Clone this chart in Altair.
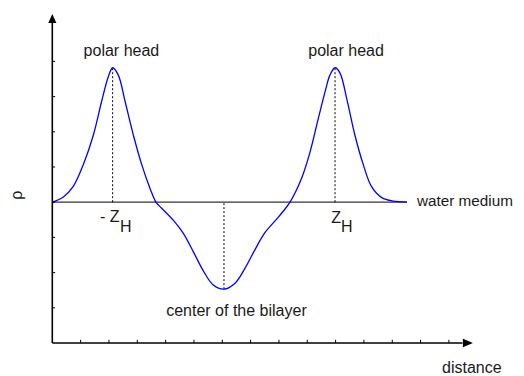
import altair as alt
import pandas as pd

# ---- data (axis units: one tick = one unit) ----
dist = [0.00, 0.39, 0.74, 1.09, 1.45, 1.74, 1.98, 2.13, 2.33, 2.57, 2.86, 3.16, 3.45, 3.66,
        3.86, 4.27, 4.62, 4.98, 5.33, 5.68, 6.06, 6.45, 6.80, 7.16, 7.51, 7.92, 8.21, 8.39,
        8.80, 9.10, 9.39, 9.63, 9.80, 9.98, 10.16, 10.39, 10.68, 10.98, 11.27, 11.63, 12.04, 12.52]
rho = [4.00, 4.15, 4.45, 5.06, 5.91, 6.86, 7.57, 7.82, 7.61, 6.86, 5.91, 5.06, 4.39, 4.00,
       3.83, 3.49, 3.12, 2.59, 2.05, 1.65, 1.53, 1.70, 2.12, 2.66, 3.14, 3.52, 3.80, 4.00,
       4.68, 5.43, 6.38, 7.14, 7.61, 7.82, 7.66, 6.95, 5.91, 5.06, 4.44, 4.13, 4.03, 4.00]

water_level = 4.0
z_head = [2.13, 9.98]
head_peak = 7.82
center_x = 6.06
center_min = 1.53
x_ticks = list(range(1, 15))
y_ticks = list(range(1, 9))

label_text = ["polar head", "polar head", "center of the bilayer", "distance"]
label_x = [2.44, 10.37, 6.50, 14.81]
label_y = [8.15, 8.15, 0.77, -0.84]

X_DOM = [-1.564, 16.368]
Y_DOM = [-0.9375, 9.517]
xs = alt.Scale(domain=X_DOM, nice=False, zero=False)
ys = alt.Scale(domain=Y_DOM, nice=False, zero=False)
FONT = "Liberation Sans"
FS = 16
TXT = "#1a1a1a"


def X(f="x"):
    return alt.X(f"{f}:Q", scale=xs, axis=None)


def Y(f="y"):
    return alt.Y(f"{f}:Q", scale=ys, axis=None)


curve_df = pd.DataFrame({"x": dist, "y": rho})

# axes
axis_df = pd.DataFrame({"x": [0, 0], "y": [0, 0], "x2": [0, 14.48], "y2": [9.09, 0]})
axes = alt.Chart(axis_df).mark_rule(color="black", strokeWidth=1.6).encode(
    x=X(), y=Y(), x2="x2:Q", y2="y2:Q")

xt_df = pd.DataFrame({"x": x_ticks, "y": [0] * len(x_ticks), "y2": [0.09] * len(x_ticks)})
xt = alt.Chart(xt_df).mark_rule(color="black", strokeWidth=1).encode(x=X(), y=Y(), y2="y2:Q")
yt_df = pd.DataFrame({"y": y_ticks, "x": [0] * len(y_ticks), "x2": [0.1] * len(y_ticks)})
yt = alt.Chart(yt_df).mark_rule(color="black", strokeWidth=1).encode(x=X(), y=Y(), x2="x2:Q")

up_arrow = alt.Chart(pd.DataFrame({"x": [0], "y": [9.22]})).mark_point(
    shape="M0,-1L0.9,1L-0.9,1Z", size=81, filled=True, color="black", opacity=1
).encode(x=X(), y=Y())
right_arrow = alt.Chart(pd.DataFrame({"x": [14.67], "y": [0]})).mark_point(
    shape="M1,0L-1,0.85L-1,-0.85Z", size=100, filled=True, color="black", opacity=1
).encode(x=X(), y=Y())

# water level line
water = alt.Chart(pd.DataFrame({"x": [0], "x2": [12.52], "y": [water_level]})).mark_rule(
    color="#333333", strokeWidth=1.3).encode(x=X(), x2="x2:Q", y=Y())

# dotted guides
guide_df = pd.DataFrame({
    "x": [z_head[0], z_head[1], center_x],
    "y": [water_level, water_level, center_min],
    "y2": [head_peak, head_peak, water_level],
})
guides = alt.Chart(guide_df).mark_rule(color="black", strokeWidth=1, strokeDash=[2, 2]).encode(
    x=X(), y=Y(), y2="y2:Q")

curve = alt.Chart(curve_df).mark_line(color="#0000ff", strokeWidth=1.3, interpolate="catmull-rom").encode(
    x=X(), y=Y())

labels_df = pd.DataFrame({"t": label_text, "x": label_x, "y": label_y})
labels = alt.Chart(labels_df).mark_text(font=FONT, fontSize=FS, color=TXT, align="center",
                                         baseline="alphabetic").encode(x=X(), y=Y(), text="t:N")

water_lbl = alt.Chart(pd.DataFrame({"t": ["water medium"], "x": [12.87], "y": [3.89]})).mark_text(
    font=FONT, fontSize=15.3, color=TXT, align="left", baseline="alphabetic").encode(
    x=X(), y=Y(), text="t:N")

z_df = pd.DataFrame({"t": ["- Z", "Z"], "x": [2.37, 10.19], "y": [3.44, 3.42]})
z_lbl = alt.Chart(z_df).mark_text(font=FONT, fontSize=FS, color=TXT, align="right",
                                  baseline="alphabetic").encode(x=X(), y=Y(), text="t:N")
h_df = pd.DataFrame({"t": ["H", "H"], "x": [2.39, 10.19], "y": [3.15, 3.15]})
h_lbl = alt.Chart(h_df).mark_text(font=FONT, fontSize=FS, color=TXT, align="left",
                                  baseline="alphabetic").encode(x=X(), y=Y(), text="t:N")

rho_lbl = alt.Chart(pd.DataFrame({"t": ["ρ"], "x": [-1.25], "y": [4.2]})).mark_text(
    font=FONT, fontSize=FS, color=TXT, align="center", baseline="middle", angle=270).encode(
    x=X(), y=Y(), text="t:N")

chart = alt.layer(
    water, guides, curve, axes, xt, yt, up_arrow, right_arrow,
    labels, water_lbl, z_lbl, h_lbl, rho_lbl
).properties(
    width=508, height=368, padding=0, autosize=alt.AutoSizeParams(type="none")
).configure_view(stroke=None)

chart.save("out.html", embed_options={"renderer": "svg", "actions": False})
